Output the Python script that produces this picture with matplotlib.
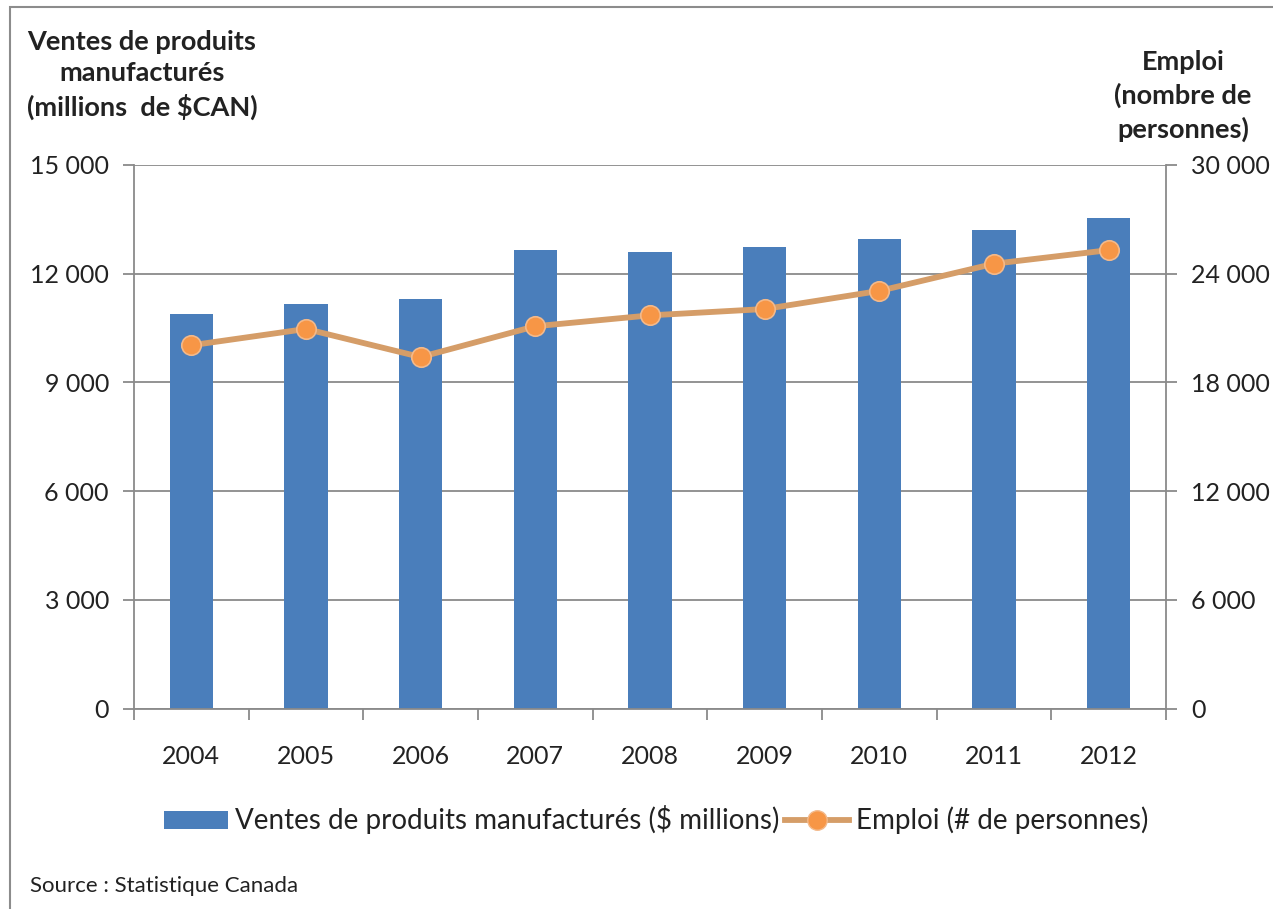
import matplotlib
matplotlib.use("Agg")
import matplotlib.pyplot as plt
from matplotlib.patches import Rectangle, Patch
from matplotlib.lines import Line2D
from matplotlib.ticker import FuncFormatter, FixedLocator

years = ["2004", "2005", "2006", "2007", "2008", "2009", "2010", "2011", "2012"]
ventes = [10900, 11150, 11300, 12650, 12600, 12750, 12950, 13200, 13550]
emploi = [20050, 20950, 19400, 21100, 21700, 22050, 23050, 24550, 25300]
left_ticks = [0, 3000, 6000, 9000, 12000, 15000]
right_ticks = [0, 6000, 12000, 18000, 24000, 30000]

plt.rcParams['font.family'] = ['Lato', 'DejaVu Sans']

W, H = 1273, 909
fig = plt.figure(figsize=(W / 100, H / 100), dpi=100)
fig.patch.set_facecolor('white')

# outer frame
fig.patches.append(Rectangle((10 / W, -0.01), 1.02, 1 - 7 / H + 0.01,
                             transform=fig.transFigure, fill=False,
                             edgecolor='#8c8c8c', linewidth=1.5))

ax = fig.add_axes([134 / W, 1 - 708.5 / H, (1166 - 134) / W, (708.5 - 165) / H])
x = list(range(len(years)))

grid_c = '#8a8a8a'
txt_c = '#222222'
ax.set_ylim(0, 15000)
ax.set_xlim(-0.5, len(years) - 0.5)
ax.yaxis.set_major_locator(FixedLocator(left_ticks))
ax.grid(axis='y', color=grid_c, linewidth=1.3)
ax.set_axisbelow(True)

ax.bar(x, ventes, width=0.38, color='#4A7EBB', zorder=2)

fmt = FuncFormatter(lambda v, p: f"{int(v):,}".replace(",", " "))
ax.yaxis.set_major_formatter(fmt)
ax.set_xticks(x)
ax.set_xticklabels(years)
ax.set_xticks([i - 0.5 for i in range(len(years) + 1)], minor=True)
ax.tick_params(axis='x', which='major', length=0, pad=26, labelsize=18, labelcolor=txt_c)
ax.tick_params(axis='x', which='minor', length=8, width=1.3, color=grid_c, direction='out')
ax.tick_params(axis='y', length=8, width=1.3, color=grid_c, labelsize=18, pad=10, labelcolor=txt_c)

for s in ['top', 'right']:
    ax.spines[s].set_visible(False)
for s in ['left', 'bottom']:
    ax.spines[s].set_color(grid_c)
    ax.spines[s].set_linewidth(1.3)

ax2 = ax.twinx()
ax2.set_ylim(0, 30000)
ax2.yaxis.set_major_locator(FixedLocator(right_ticks))
ax2.yaxis.set_major_formatter(fmt)
ax2.tick_params(axis='y', length=8, width=1.3, color=grid_c, labelsize=18, pad=10, labelcolor=txt_c)
for s in ['top', 'left', 'bottom']:
    ax2.spines[s].set_visible(False)
ax2.spines['right'].set_color(grid_c)
ax2.spines['right'].set_linewidth(1.3)

line_c = '#D59D68'
ax2.plot(x, emploi, color=line_c, linewidth=4.2, marker='o', markersize=14,
         markerfacecolor='#F79646', markeredgecolor='#F3B98A', markeredgewidth=1.2,
         zorder=3, solid_capstyle='round')

# axis titles
fig.text(142 / W, 1 - 75 / H, "Ventes de produits\nmanufacturés\n(millions  de $CAN)",
         ha='center', va='center', fontsize=19.5, fontweight='bold', color=txt_c,
         linespacing=1.38)
fig.text(1183 / W, 1 - 96 / H, "Emploi\n(nombre de\npersonnes)",
         ha='center', va='center', fontsize=19.5, fontweight='bold', color=txt_c,
         linespacing=1.4)

handles = [Patch(facecolor='#4A7EBB', edgecolor='none'),
           Line2D([], [], color=line_c, linewidth=4.2, marker='o', markersize=14,
                  markerfacecolor='#F79646', markeredgecolor='#F3B98A')]
labels = ["Ventes de produits manufacturés ($ millions)", "Emploi (# de personnes)"]
leg = fig.legend(handles, labels, loc='center', bbox_to_anchor=(656 / W, 1 - 820 / H),
                 ncol=2, frameon=False, fontsize=20, handlelength=2.3, handletextpad=0.25,
                 columnspacing=0.2, handleheight=0.6)
for t in leg.get_texts():
    t.set_color(txt_c)

fig.text(30 / W, 1 - 886 / H, "Source : Statistique Canada", ha='left', va='center',
         fontsize=16, color=txt_c)

fig.savefig("out.png", dpi=100, facecolor='white')
